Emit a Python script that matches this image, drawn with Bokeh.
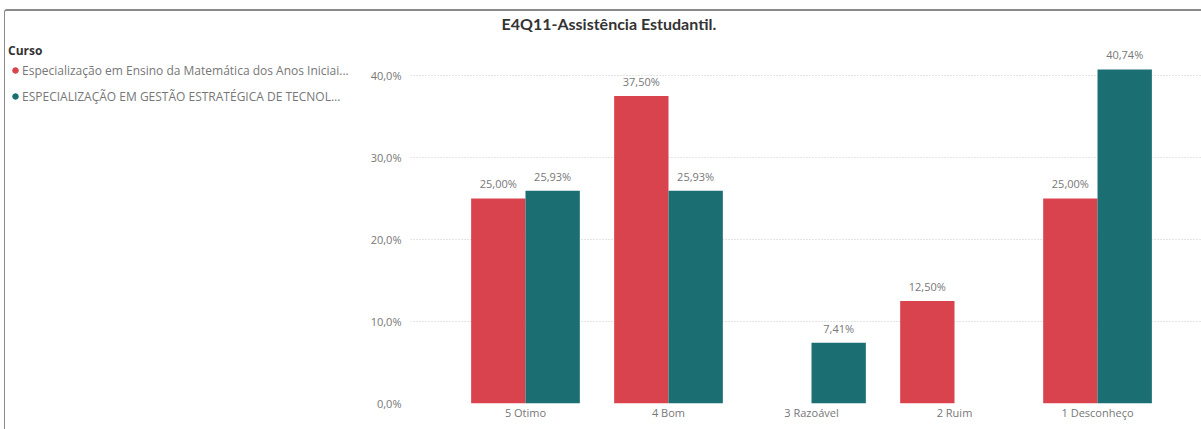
from bokeh.plotting import figure
from bokeh.models import Range1d, FixedTicker, ColumnDataSource, LabelSet, Legend, LegendItem, Title
from bokeh.transform import dodge
from bokeh.layouts import row
from bokeh.embed import file_html
from bokeh.resources import INLINE
from bokeh.core.properties import value

# ---------------- data ----------------
chart_title = "E4Q11-Assistência Estudantil."
legend_title = "Curso"
categories = ["5 Otimo", "4 Bom", "3 Razoável", "2 Ruim", "1 Desconheço"]
series_names = [
    "Especialização em Ensino da Matemática dos Anos Iniciai...",
    "ESPECIALIZAÇÃO EM GESTÃO ESTRATÉGICA DE TECNOL...",
]
ensino = [25.00, 37.50, None, 12.50, 25.00]
gestao = [25.93, 25.93, 7.41, None, 40.74]
y_ticks = [0, 10, 20, 30, 40]
colors = ["#D9434E", "#1B6F72"]

FONT = "Open Sans"
TEXT_GRAY = "#777777"


def fmt_pct(v, nd):
    return f"{v:.{nd}f}".replace(".", ",") + "%"


# ---------------- legend panel ----------------
leg_fig = figure(width=360, height=418, output_backend="svg", toolbar_location=None,
                 title_location=None,
                 x_range=Range1d(0, 1), y_range=Range1d(0, 1),
                 x_axis_location=None, y_axis_location=None)
leg_fig.min_border_left = 3
leg_fig.min_border_right = 0
leg_fig.min_border_bottom = 0
leg_fig.min_border_top = 20
leg_fig.grid.visible = False
leg_fig.outline_line_color = None
dummy = []
for c in colors:
    dummy.append(leg_fig.scatter(x=[float("nan")], y=[float("nan")], marker="circle", size=8,
                                 fill_color=c, line_color=c))
legend = Legend(
    items=[LegendItem(label=value(n), renderers=[r]) for n, r in zip(series_names, dummy)],
    location="top_left", title=legend_title, margin=0, padding=7, spacing=6,
    glyph_width=14, glyph_height=14, label_height=20, label_standoff=0, title_standoff=1,
    border_line_color=None, background_fill_alpha=0,
    label_text_font=FONT, label_text_font_size="12px", label_text_color=TEXT_GRAY,
    title_text_font=FONT, title_text_font_size="12px", title_text_color="#333333",
    title_text_font_style="bold",
)
leg_fig.add_layout(legend)

# ---------------- chart ----------------
p = figure(width=836, height=418, output_backend="svg", toolbar_location=None,
           title_location=None,
           x_range=Range1d(-0.804, 4.727), y_range=Range1d(0, 44.02),
           min_border_left=45, min_border_right=0, min_border_top=31, min_border_bottom=26)
p.outline_line_color = None
# spacer panel (closest to the frame) then the visible title above it
p.add_layout(Title(text=" ", text_font_size="1px", standoff=7), "above")
p.add_layout(Title(text=chart_title, align="left", offset=91, standoff=0,
                   text_font="Lato", text_font_size="16px", text_font_style="bold",
                   text_color="#333333"), "above")

xs = list(range(len(categories)))
src = ColumnDataSource(dict(
    x=xs,
    ensino=[float("nan") if v is None else v for v in ensino],
    gestao=[float("nan") if v is None else v for v in gestao],
))
bw = 0.38
p.vbar(x=dodge("x", -bw / 2, range=p.x_range), top="ensino", width=bw, source=src,
       fill_color=colors[0], line_color=None)
p.vbar(x=dodge("x", bw / 2, range=p.x_range), top="gestao", width=bw, source=src,
       fill_color=colors[1], line_color=None)

for vals, off in ((ensino, -bw / 2), (gestao, bw / 2)):
    lx = [i for i, v in enumerate(vals) if v is not None]
    ly = [v for v in vals if v is not None]
    lt = [fmt_pct(v, 2) for v in vals if v is not None]
    ls = ColumnDataSource(dict(x=lx, y=ly, t=lt))
    p.add_layout(LabelSet(x=dodge("x", off, range=p.x_range), y="y", text="t", source=ls,
                          text_align="center", text_baseline="bottom", y_offset=7,
                          text_font=value(FONT), text_font_size="11px", text_color=TEXT_GRAY))

p.xgrid.visible = False
p.ygrid.ticker = FixedTicker(ticks=y_ticks)
p.ygrid.grid_line_color = "#c8c8c8"
p.ygrid.grid_line_dash = "1 2"

p.yaxis.ticker = FixedTicker(ticks=y_ticks)
p.yaxis.major_label_overrides = {t: fmt_pct(t, 1) for t in y_ticks}
p.xaxis.ticker = FixedTicker(ticks=xs)
p.xaxis.major_label_overrides = {i: c for i, c in enumerate(categories)}
for ax in (p.xaxis, p.yaxis):
    ax.axis_line_color = None
    ax.major_tick_line_color = None
    ax.minor_tick_line_color = None
    ax.major_label_text_font = FONT
    ax.major_label_text_font_size = "11px"
    ax.major_label_text_color = TEXT_GRAY
p.yaxis.major_label_standoff = 3
p.xaxis.major_label_standoff = -5

layout = row(leg_fig, p, styles={
    "margin-left": "4px", "margin-top": "9px",
    "border-left": "1px solid #8a8a8a", "border-top": "2px solid #8a8a8a",
    "border-top-left-radius": "3px",
})
open("out.html", "w").write(file_html(layout, INLINE))
